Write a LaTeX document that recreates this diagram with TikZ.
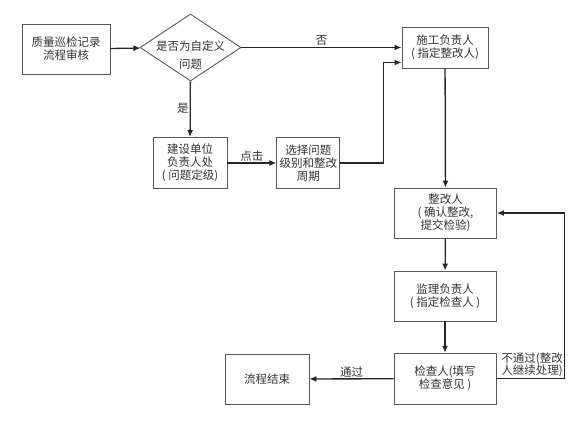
\documentclass[tikz,border=0pt]{standalone}
\usepackage{fontspec}
\setmainfont{Noto Sans CJK SC}
\usetikzlibrary{shapes.geometric,arrows.meta,positioning}

\begin{document}
\begin{tikzpicture}[x=1pt,y=-1pt,
  every node/.style={text=black!80, font=\fontsize{11.5}{13}\selectfont},
  box/.style={draw=black!65, line width=0.9pt, align=center, inner sep=0pt},
  decision/.style={draw=black!65, line width=0.9pt, diamond, inner sep=0pt,
    minimum width=101pt, minimum height=67pt},
  flow/.style={draw=black!85, line width=1.3pt, -{Latex[length=7pt,width=6pt]}},
  tag/.style={inner sep=1pt}]
\useasboundingbox (0,0) rectangle (588,426);
% top row
\node[box, minimum width=88pt, minimum height=50pt] (audit) at (66,49) {质量巡检记录\\流程审核};
\node[decision] (custom) at (190.5,47.5) {};
\node[align=center, font=\fontsize{11.5}{17.5}\selectfont] (customtxt) at (190.5,55) {是否为自定义\\问题};
\node[box, minimum width=86pt, minimum height=41pt] (builder) at (445,47.5) {施工负责人\\( 指定整改人)};
% middle row
\node[box, minimum width=74pt, minimum height=51pt] (owner) at (190,163) {建设单位\\负责人处\\( 问题定级)};
\node[box, minimum width=63pt, minimum height=51pt] (level) at (308.3,163) {选择问题\\级别和整改\\周期};
% right column
\node[box, minimum width=102pt, minimum height=50pt] (fixer) at (445.5,213) {整改人\\( 确认整改,\\提交检验)};
\node[box, minimum width=102pt, minimum height=50pt] (super) at (445,296) {监理负责人\\( 指定检查人 )};
\node[box, minimum width=102pt, minimum height=51pt] (checker) at (445,378.7) {检查人(填写\\检查意见 )};
\node[box, minimum width=84pt, minimum height=50pt] (finish) at (267,379) {流程结束};

\draw[flow] (audit) -- (custom);
\draw[flow] (custom) -- node[tag, above, pos=0.5] {否} (builder);
\draw[flow] (custom) -- node[tag, left, pos=0.48] {是} (owner);
\draw[flow] (owner) -- node[tag, above] {点击} (level);
\draw[flow] (level.east) -- ++(43,0) |- ([yshift=-15pt]builder.west);
\draw[flow] (builder) -- (fixer);
\draw[flow] (fixer) -- (super);
\draw[flow] (super) -- (checker);
\draw[flow] (checker) -- node[tag, above] {通过} (finish);
\draw[flow] (checker.east) -- ++(68,0)
  node[tag, above left, align=center, font=\fontsize{11.5}{12}\selectfont] {不通过(整改\\人继续处理)}
  |- (fixer.east);
\end{tikzpicture}
\end{document}
